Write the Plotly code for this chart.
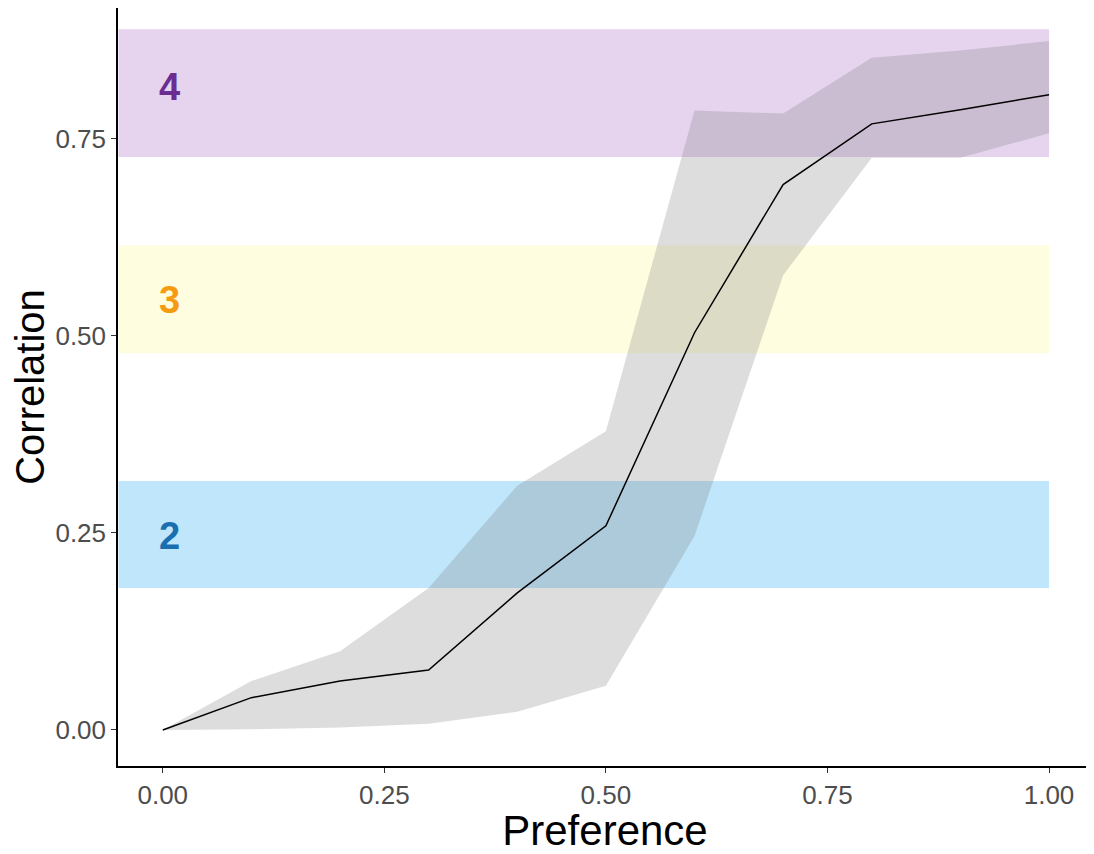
import plotly.graph_objects as go

# ---- data ----
preference = [0.0, 0.1, 0.2, 0.3, 0.4, 0.5, 0.6, 0.7, 0.8, 0.9, 1.0]
correlation = [0.0, 0.041, 0.062, 0.076, 0.174, 0.259, 0.504, 0.692, 0.769, 0.787, 0.806]
ribbon_upper = [0.0, 0.062, 0.100, 0.180, 0.310, 0.379, 0.786, 0.782, 0.853, 0.862, 0.874]
ribbon_lower = [0.0, 0.001, 0.003, 0.008, 0.023, 0.056, 0.246, 0.577, 0.726, 0.726, 0.757]

band_labels = ["2", "3", "4"]
band_lower = [0.18, 0.478, 0.727]
band_upper = [0.316, 0.615, 0.889]
band_label_y = [0.246, 0.546, 0.816]
band_x_start = -0.05
band_x_end = 1.0
band_fill = ["#bfe6fb", "#fefde0", "#e6d4ef"]
band_text_color = ["#1a6fb0", "#f59b12", "#6b2d91"]
label_x = 0.008

x_ticks = [0.0, 0.25, 0.5, 0.75, 1.0]
x_ticklabels = ["0.00", "0.25", "0.50", "0.75", "1.00"]
y_ticks = [0.0, 0.25, 0.5, 0.75]
y_ticklabels = ["0.00", "0.25", "0.50", "0.75"]

fig = go.Figure()

# bands
for lo, hi, col in zip(band_lower, band_upper, band_fill):
    fig.add_shape(type="rect", xref="x", yref="y", x0=band_x_start, x1=band_x_end,
                  y0=lo, y1=hi, fillcolor=col, line=dict(width=0), layer="below")

# ribbon
fig.add_trace(go.Scatter(x=preference, y=ribbon_upper, mode="lines",
                         line=dict(width=0), showlegend=False, hoverinfo="skip"))
fig.add_trace(go.Scatter(x=preference, y=ribbon_lower, mode="lines",
                         line=dict(width=0), fill="tonexty",
                         fillcolor="rgba(120,120,120,0.25)", showlegend=False,
                         hoverinfo="skip"))
# line
fig.add_trace(go.Scatter(x=preference, y=correlation, mode="lines",
                         line=dict(color="black", width=1.5), showlegend=False))

# band labels
for lab, ly, col in zip(band_labels, band_label_y, band_text_color):
    fig.add_annotation(x=label_x, y=ly, text="<b>" + lab + "</b>",
                       showarrow=False, xanchor="center", yanchor="middle",
                       font=dict(family="Liberation Sans, Arial", size=38, color=col))

axis_common = dict(showline=True, linecolor="black", linewidth=1.5,
                   ticks="outside", ticklen=5, tickcolor="#333333", tickwidth=1.2,
                   showgrid=False, zeroline=False,
                   tickfont=dict(family="Liberation Sans, Arial", size=26, color="#4d4d4d"))

fig.update_layout(
    width=1086, height=846,
    margin=dict(l=110, r=2, t=0, b=88),
    plot_bgcolor="white", paper_bgcolor="white",
    xaxis=dict(range=[-0.0505, 1.0485], tickvals=x_ticks, ticktext=x_ticklabels,
               ticklabelstandoff=0,
               title=dict(text="Preference", standoff=14,
                          font=dict(family="Liberation Sans, Arial", size=42, color="black")),
               **axis_common),
    yaxis=dict(range=[-0.0457, 0.916], tickvals=y_ticks, ticktext=y_ticklabels,
               title=dict(text="Correlation", standoff=12,
                          font=dict(family="Liberation Sans, Arial", size=40, color="black")),
               **axis_common),
)

fig.write_html("out.html")
